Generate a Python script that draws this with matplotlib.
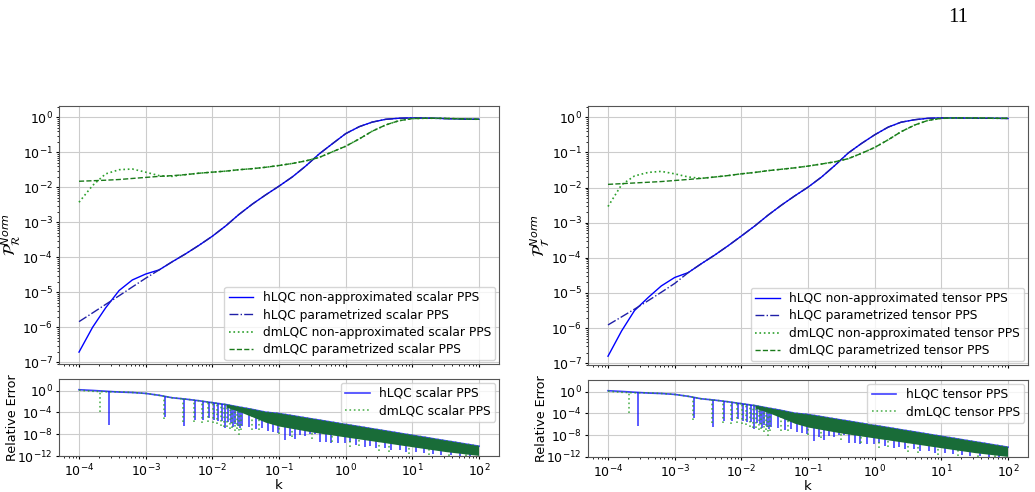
import numpy as np
import matplotlib
matplotlib.use('Agg')
import matplotlib.pyplot as plt
from matplotlib.patches import Polygon

plt.rcParams['font.size'] = 9.5
plt.rcParams['xtick.labelsize'] = 9
plt.rcParams['ytick.labelsize'] = 9
plt.rcParams['xtick.major.size'] = 2.5
plt.rcParams['ytick.major.size'] = 2.5
plt.rcParams['xtick.minor.size'] = 1.5
plt.rcParams['ytick.minor.size'] = 1.5
plt.rcParams['xtick.major.pad'] = 2
plt.rcParams['ytick.major.pad'] = 2
plt.rcParams['axes.edgecolor'] = '#555555'

# common k grid for the spectra (log10 k from -4 to 2 in steps of 0.2)
k = [1.0e-4, 1.6e-4, 2.5e-4, 4.0e-4, 6.3e-4, 1.0e-3, 1.6e-3, 2.5e-3, 4.0e-3, 6.3e-3,
     1.0e-2, 1.6e-2, 2.5e-2, 4.0e-2, 6.3e-2, 0.1, 0.16, 0.25, 0.4, 0.63,
     1.0, 1.6, 2.5, 4.0, 6.3, 10, 16, 25, 40, 63, 100]

# normalised spectra, stored as log10 values
hlqc_scalar_log = [-6.71, -6.0, -5.45, -4.95, -4.65, -4.48, -4.36, -4.13, -3.90, -3.66,
                   -3.40, -3.10, -2.78, -2.48, -2.22, -1.97, -1.70, -1.40, -1.05, -0.76,
                   -0.47, -0.27, -0.14, -0.06, -0.03, -0.02, -0.025, -0.035, -0.045, -0.055, -0.06]
hlqc_scalar_par_log = [-5.84, -5.59, -5.35, -5.10, -4.85, -4.60, -4.36, -4.13, -3.90, -3.66,
                       -3.40, -3.10, -2.78, -2.48, -2.22, -1.97, -1.70, -1.40, -1.05, -0.76,
                       -0.47, -0.27, -0.14, -0.06, -0.03, -0.02, -0.025, -0.035, -0.045, -0.055, -0.06]
dmlqc_scalar_log = [-2.43, -1.95, -1.62, -1.50, -1.48, -1.57, -1.67, -1.69, -1.64, -1.60,
                    -1.57, -1.54, -1.50, -1.47, -1.43, -1.38, -1.32, -1.25, -1.15, -0.99,
                    -0.83, -0.62, -0.40, -0.22, -0.10, -0.04, -0.03, -0.03, -0.04, -0.05, -0.06]
dmlqc_scalar_par_log = [-1.83, -1.815, -1.80, -1.78, -1.75, -1.72, -1.69, -1.67, -1.64, -1.60,
                        -1.57, -1.54, -1.50, -1.47, -1.43, -1.38, -1.32, -1.25, -1.15, -0.99,
                        -0.83, -0.62, -0.40, -0.22, -0.10, -0.04, -0.03, -0.03, -0.04, -0.05, -0.06]

hlqc_tensor_log = [-6.80, -6.08, -5.50, -5.13, -4.80, -4.56, -4.42, -4.17, -3.92, -3.66,
                   -3.38, -3.09, -2.79, -2.50, -2.24, -1.99, -1.70, -1.38, -1.02, -0.75,
                   -0.50, -0.28, -0.14, -0.07, -0.03, -0.02, -0.02, -0.025, -0.03, -0.03, -0.035]
hlqc_tensor_par_log = [-5.91, -5.68, -5.46, -5.22, -4.98, -4.73, -4.42, -4.17, -3.92, -3.66,
                       -3.38, -3.09, -2.79, -2.50, -2.24, -1.99, -1.70, -1.38, -1.02, -0.75,
                       -0.50, -0.28, -0.14, -0.07, -0.03, -0.02, -0.02, -0.025, -0.03, -0.03, -0.035]
dmlqc_tensor_log = [-2.54, -1.92, -1.67, -1.57, -1.54, -1.61, -1.70, -1.74, -1.70, -1.66,
                    -1.61, -1.57, -1.52, -1.48, -1.44, -1.39, -1.33, -1.27, -1.18, -1.03,
                    -0.86, -0.64, -0.41, -0.22, -0.09, -0.03, -0.02, -0.02, -0.02, -0.03, -0.03]
dmlqc_tensor_par_log = [-1.91, -1.89, -1.87, -1.85, -1.83, -1.80, -1.77, -1.74, -1.70, -1.66,
                        -1.61, -1.57, -1.52, -1.48, -1.44, -1.39, -1.33, -1.27, -1.18, -1.03,
                        -0.86, -0.64, -0.41, -0.22, -0.09, -0.03, -0.02, -0.02, -0.02, -0.03, -0.03]

# relative error: upper envelope (log10) on the same k grid
err_env_h_log = [0.18, 0.05, -0.10, -0.25, -0.33, -0.50, -0.85, -1.30, -1.55, -1.85,
                 -2.20, -2.55, -3.00, -3.45, -3.95, -4.20, -4.60, -5.00, -5.40, -5.80,
                 -6.20, -6.60, -7.00, -7.40, -7.80, -8.20, -8.60, -9.00, -9.40, -9.80, -10.2]
err_env_dm_log = [0.10, -0.10, -0.20, -0.20, -0.33, -0.50, -0.85, -1.30, -1.55, -1.85,
                  -2.20, -2.55, -3.00, -3.45, -3.95, -4.20, -4.60, -5.00, -5.40, -5.80,
                  -6.20, -6.60, -7.00, -7.40, -7.80, -8.20, -8.60, -9.00, -9.40, -9.80, -10.2]

# dense part: solid band between its lower edge and the envelope
band_k = [1.6e-2, 2.5e-2, 4.0e-2, 6.3e-2, 0.1, 0.32, 1.0, 3.2, 10, 32, 100]
band_low_log = [-3.0, -3.8, -4.8, -5.8, -6.5, -7.6, -8.5, -9.4, -10.3, -11.2, -11.9]

# dips / spikes (log10 k, log10 depth)
hlqc_dip_logk = [-3.55, -2.705, -2.425, -2.26, -2.145, -2.055, -1.98, -1.915, -1.86, -1.81,
                 -1.765, -1.725, -1.69, -1.655, -1.62, -1.59, -1.56, -1.45, -1.35, -1.25,
                 -1.17, -1.09, -1.016, -0.916, -0.84, -0.766, -0.69, -0.616, -0.54, -0.466,
                 -0.39, -0.29, -0.216, -0.116, -0.016, 0.06, 0.16, 0.284, 0.36, 0.46,
                 0.584, 0.684, 0.81, 0.91, 1.06, 1.18, 1.31, 1.43, 1.58, 1.71, 1.86]
hlqc_dip_log = [-6.3, -4.8, -6.4, -5.3, -5.3, -5.0, -5.4, -5.6, -5.5, -6.9,
                -5.8, -6.0, -6.6, -6.2, -6.4, -6.8, -6.5, -6.6, -7.0, -6.8,
                -7.4, -7.5, -7.8, -9.1, -8.4, -8.8, -8.2, -8.3, -8.0, -8.0,
                -9.4, -9.4, -9.7, -9.7, -9.7, -9.4, -10.0, -10.3, -10.1, -10.6,
                -10.5, -10.9, -10.9, -11.2, -11.3, -11.5, -11.7, -11.8, -11.9, -12.0, -12.0]
dmlqc_dip_logk = [-3.69, -2.72, -2.44, -2.275, -2.16, -2.07, -1.995, -1.93, -1.875, -1.825,
                  -1.78, -1.74, -1.70, -1.665, -1.63, -1.60, -1.57, -1.40, -1.3, -1.0,
                  -0.8, -0.5, -0.2, 0.06, 0.2, 0.5, 0.65, 0.95, 1.25, 1.55, 1.8]
dmlqc_dip_log = [-3.9, -5.2, -5.7, -5.8, -5.9, -5.8, -6.0, -6.2, -6.4, -6.6,
                 -6.6, -7.0, -6.8, -7.4, -7.0, -8.2, -7.3, -7.2, -7.2, -7.9,
                 -8.6, -8.9, -9.5, -10.3, -10.1, -11.0, -11.3, -11.6, -11.9, -12.0, -12.0]

W, H = 1035, 492
fig = plt.figure(figsize=(W / 100, H / 100), dpi=100)


def frac(x0, y0, x1, y1):
    return [x0 / W, 1 - y1 / H, (x1 - x0) / W, (y1 - y0) / H]


def main_panel(rect, ylabel, kind, h, hp, d, dp):
    ax = fig.add_axes(rect)
    kk = np.array(k)
    ax.plot(kk, 10 ** np.array(h), color='blue', lw=1.0,
            label=f'hLQC non-approximated {kind} PPS')
    ax.plot(kk, 10 ** np.array(hp), color='#1f1fa8', lw=1.0, ls='-.',
            label=f'hLQC parametrized {kind} PPS')
    ax.plot(kk, 10 ** np.array(d), color='#2ca02c', lw=1.2, ls=':',
            label=f'dmLQC non-approximated {kind} PPS')
    ax.plot(kk, 10 ** np.array(dp), color='#1a7a1a', lw=1.0, ls='--',
            label=f'dmLQC parametrized {kind} PPS')
    ax.set_xscale('log')
    ax.set_yscale('log')
    ax.set_xlim(10 ** -4.3, 10 ** 2.3)
    ax.set_ylim(10 ** -7.05, 10 ** 0.32)
    ax.set_yticks([10.0 ** e for e in range(-7, 1)])
    ax.set_xticks([10.0 ** e for e in range(-4, 3)])
    ax.tick_params(axis='x', labelbottom=False)
    ax.grid(True, color='#cccccc', lw=0.8)
    ax.set_ylabel(ylabel, fontsize=11.5)
    ax.yaxis.set_label_coords(-0.082, 0.5)
    ax.legend(loc='lower right', fontsize=8.8, borderpad=0.35, labelspacing=0.35,
              handletextpad=0.8, borderaxespad=0.3)
    return ax


def err_panel(rect, kind):
    ax = fig.add_axes(rect)
    kk = np.array(k)
    env_h = 10 ** np.array(err_env_h_log)
    env_d = 10 ** np.array(err_env_dm_log)

    def under(env):
        verts = np.column_stack([np.r_[kk, kk[::-1]], np.r_[env, np.full(len(kk), 1e-14)]])
        return Polygon(verts, closed=True, transform=ax.transData, fill=False, lw=0)

    vl = ax.vlines(10 ** np.array(hlqc_dip_logk), 10 ** np.array(hlqc_dip_log), 10.0,
                   color='blue', alpha=0.75, lw=1.2)
    vl.set_clip_path(under(env_h))
    ax.plot(kk, env_h, color='blue', alpha=0.75, lw=1.2, label=f'hLQC {kind} PPS')
    vd = ax.vlines(10 ** np.array(dmlqc_dip_logk), 10 ** np.array(dmlqc_dip_log), 10.0,
                   color='#2ca02c', alpha=0.8, lw=1.2, linestyles=':')
    vd.set_clip_path(under(env_d))
    ax.plot(kk, env_d, color='#2ca02c', alpha=0.8, lw=1.2, ls=':',
            label=f'dmLQC {kind} PPS')

    bk = np.array(band_k)
    poly = ax.fill_between(bk, 10 ** np.array(band_low_log), 10.0, color='#196c38',
                           lw=0, zorder=3)
    poly.set_clip_path(under(env_h))

    ax.set_xscale('log')
    ax.set_yscale('log')
    ax.set_xlim(10 ** -4.3, 10 ** 2.3)
    ax.set_ylim(1e-12, 10 ** 2.15)
    ax.set_yticks([1e0, 1e-4, 1e-8, 1e-12])
    ax.set_xticks([10.0 ** e for e in range(-4, 3)])
    ax.grid(True, color='#cccccc', lw=0.8)
    ax.set_xlabel('k', labelpad=0)
    ax.set_ylabel('Relative Error', fontsize=9.2)
    ax.yaxis.set_label_coords(-0.092, 0.5)
    ax.legend(loc='upper right', fontsize=8.8, borderpad=0.35, labelspacing=0.35,
              handletextpad=0.8, borderaxespad=0.3)
    return ax


main_panel(frac(59, 106, 499, 364), r'$\mathcal{P}_{\mathcal{R}}^{Norm}$', 'scalar',
           hlqc_scalar_log, hlqc_scalar_par_log, dmlqc_scalar_log, dmlqc_scalar_par_log)
err_panel(frac(59, 379, 499, 456), 'scalar')

main_panel(frac(588, 106, 1028, 365), r'$\mathcal{P}_{\mathcal{T}}^{Norm}$', 'tensor',
           hlqc_tensor_log, hlqc_tensor_par_log, dmlqc_tensor_log, dmlqc_tensor_par_log)
err_panel(frac(588, 380, 1028, 457), 'tensor')

fig.text(958 / W, 1 - 17 / H, '11', family='Liberation Serif', fontsize=15,
         ha='center', va='center')

fig.savefig('out.png', dpi=100)
